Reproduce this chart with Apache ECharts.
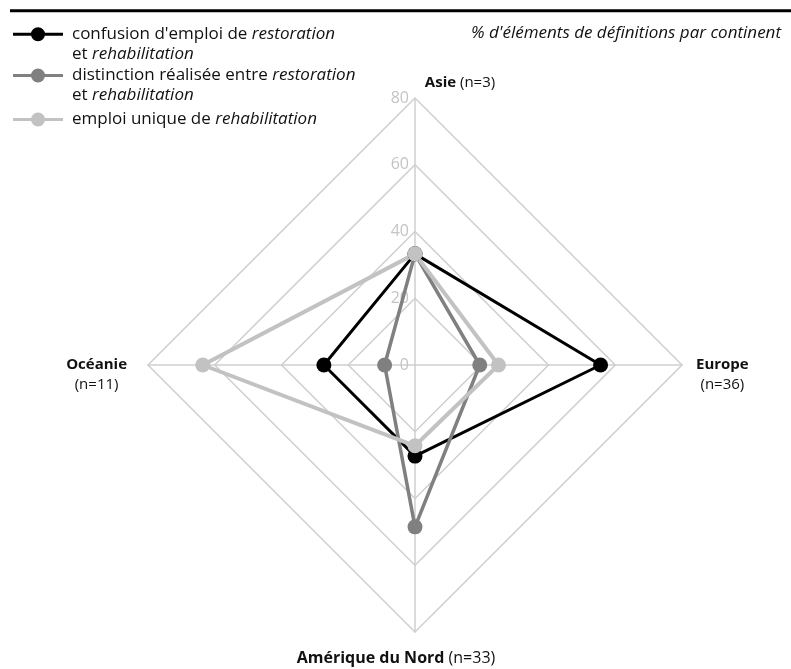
<!DOCTYPE html>
<html>
<head>
<meta charset="utf-8">
<script src="https://cdn.jsdelivr.net/npm/echarts@6/dist/echarts.min.js"></script>
<style>
html,body{margin:0;padding:0;background:#fff;}
#chart{width:791px;height:669px;}
</style>
</head>
<body>
<div id="chart"></div>
<script>
// Data (radar indicators ordered counter-clockwise from the top)
var categories = ['Asie', 'Océanie', 'Amérique du Nord', 'Europe'];
var counts = [3, 11, 33, 36];
var axisTicks = [0, 20, 40, 60, 80];
var seriesNames = [
  "confusion d'emploi de restoration et rehabilitation",
  "distinction réalisée entre restoration et rehabilitation",
  "emploi unique de rehabilitation"
];
var confusion = [33.3, 27.3, 27.3, 55.6];
var distinction = [33.3, 9.1, 48.5, 19.4];
var emploiUnique = [33.3, 63.6, 24.2, 25.0];

var FONT = 'Open Sans';
var LFS = 17;
var colors = ['#000000', '#808080', '#c2c2c2'];
var legendTexts = [
  "{n|confusion d'emploi de }{i|restoration}\n{n|et }{i|rehabilitation}",
  "{n|distinction réalisée entre }{i|restoration}\n{n|et }{i|rehabilitation}",
  "{n|emploi unique de }{i|rehabilitation}"
];
var iconPath = 'path://M0,5.5L50,5.5L50,8.5L0,8.5Z M32,7A7,7,0,1,1,18,7A7,7,0,1,1,32,7Z';

function legendFor(idx, top, padTop) {
  var rich = {
    n: {fontFamily: FONT, fontSize: LFS, color: '#111', lineHeight: 20},
    i: {fontFamily: FONT, fontSize: LFS, color: '#111', fontStyle: 'italic', lineHeight: 20}
  };
  return {
    left: 13, top: top, orient: 'vertical', padding: 0,
    itemWidth: 50, itemHeight: 14, itemGap: 0,
    selectedMode: false,
    icon: iconPath,
    data: [{name: seriesNames[idx], icon: iconPath, itemStyle: {color: colors[idx]}}],
    formatter: function () { return legendTexts[idx]; },
    textStyle: {fontFamily: FONT, fontSize: LFS, color: '#111', padding: [padTop, 0, 0, 4], rich: rich}
  };
}

var nameFormats = {
  'Asie': function (n) { return '{sp| }{ab|Asie }{ar|(n=' + n + ')}'; },
  'Océanie': function (n) { return '{e| }\n{ob|Océanie}\n{or|(n=' + n + ')}'; },
  'Amérique du Nord': function (n) { return '{e11| }\n{nb|Amérique du Nord }{nr|(n=' + n + ')}{sp38| }'; },
  'Europe': function (n) { return '{e| }\n{eb|Europe}\n{er|(n=' + n + ')}'; }
};

var base = {fontFamily: FONT, fontSize: 15, color: '#111', lineHeight: 20};
function st(extra) { return Object.assign({}, base, extra); }

var indicators = categories.map(function (c, i) {
  var ind = {name: c, min: axisTicks[0], max: axisTicks[axisTicks.length - 1]};
  if (i === 0) {
    ind.axisLabel = {show: true, color: '#c4c4c4', fontSize: 16, fontFamily: FONT, margin: 6};
  } else {
    ind.axisLabel = {show: false};
  }
  return ind;
});

var chart = echarts.init(document.getElementById('chart'), null, {renderer: 'canvas'});
chart.setOption({
  animation: false,
  backgroundColor: '#ffffff',
  title: {
    text: "% d'éléments de définitions par continent",
    right: 5, top: 20,
    textStyle: {fontFamily: FONT, fontSize: LFS, fontStyle: 'italic', fontWeight: 'normal', color: '#111'}
  },
  graphic: [{
    type: 'line', shape: {x1: 10, y1: 10.8, x2: 791, y2: 10.8},
    style: {stroke: '#000', lineWidth: 3}
  }],
  legend: [legendFor(0, 25.7, 20), legendFor(1, 67, 20), legendFor(2, 111, 0)],
  radar: {
    center: [415, 365],
    radius: 267,
    shape: 'polygon',
    splitNumber: axisTicks.length - 1,
    startAngle: 90,
    indicator: indicators,
    nameGap: 1,
    axisName: {
      fontFamily: FONT, fontSize: 15, color: '#111',
      formatter: function (name) {
        var i = categories.indexOf(name);
        return nameFormats[name](counts[i]);
      },
      rich: {
        sp: {width: 90, fontSize: 15, lineHeight: 20},
        sp38: {width: 38, fontSize: 16, lineHeight: 20},
        e: {fontSize: 10, lineHeight: 20},
        e11: {fontSize: 8, lineHeight: 15},
        ab: st({fontWeight: 'bold'}),
        ar: st({}),
        nb: st({fontWeight: 'bold', fontSize: 16}),
        nr: st({fontSize: 16}),
        ob: st({fontWeight: 'bold', align: 'center', padding: [0, 20, 0, 0]}),
        or: st({align: 'center', padding: [0, 20, 0, 0]}),
        eb: st({fontWeight: 'bold', align: 'center', padding: [0, 0, 0, 13]}),
        er: st({align: 'center', padding: [0, 0, 0, 13]})
      }
    },
    axisLine: {show: true, lineStyle: {color: '#cfcfcf', width: 1.5}},
    axisTick: {show: false},
    axisLabel: {show: false},
    splitLine: {show: true, lineStyle: {color: '#cfcfcf', width: 1.5}},
    splitArea: {show: false}
  },
  series: [{
    type: 'radar',
    symbol: 'circle',
    symbolSize: 15,
    data: [
      {name: seriesNames[0], value: confusion,
        lineStyle: {color: colors[0], width: 3}, itemStyle: {color: colors[0]}},
      {name: seriesNames[1], value: distinction,
        lineStyle: {color: colors[1], width: 3.5}, itemStyle: {color: colors[1]}},
      {name: seriesNames[2], value: emploiUnique,
        lineStyle: {color: colors[2], width: 4}, itemStyle: {color: colors[2]}}
    ]
  }]
});
</script>
</body>
</html>
